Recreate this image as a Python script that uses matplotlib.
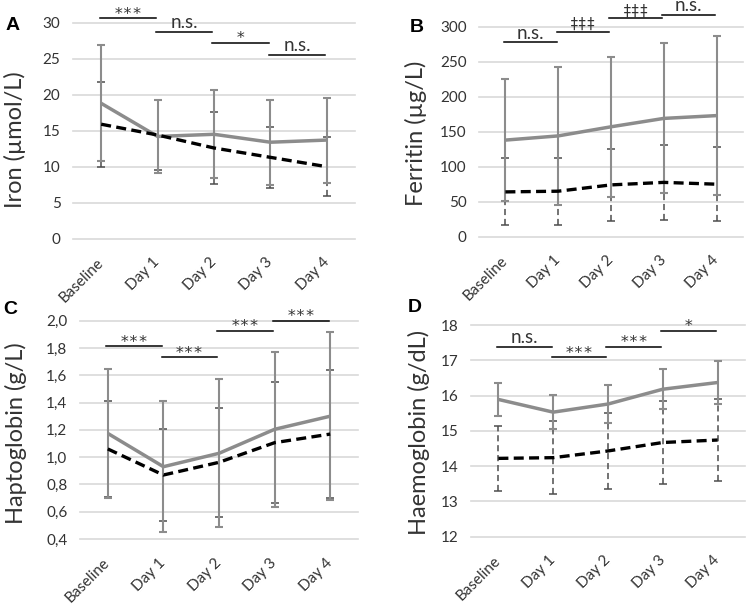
import matplotlib
matplotlib.use("Agg")
import matplotlib.pyplot as plt

plt.rcParams['font.family'] = ['Lato', 'DejaVu Sans']

categories = ["Baseline", "Day 1", "Day 2", "Day 3", "Day 4"]

# Panel A: Iron
iron_gray = [18.8, 14.2, 14.5, 13.4, 13.7]
iron_gray_err = [8.05, 5.1, 6.1, 5.9, 5.9]
iron_black = [15.9, 14.4, 12.6, 11.3, 10.0]
iron_black_err = [5.9, 4.9, 5.0, 4.2, 4.1]
iron_sig = ["***", "n.s.", "*", "n.s."]
iron_sig_y = [30.6, 28.75, 27.2, 25.5]
iron_ticks = [0, 5, 10, 15, 20, 25, 30]

# Panel B: Ferritin
ferr_gray = [138, 144, 157, 169, 173]
ferr_gray_err = [87, 99, 100, 107, 114]
ferr_black = [64, 65, 74, 77.6, 75]
ferr_black_err = [48, 48, 51, 54, 53]
ferr_sig = ["n.s.", "\u2021\u2021\u2021", "\u2021\u2021\u2021", "n.s."]
ferr_sig_y = [277.6, 292.9, 311.9, 316.7]
ferr_ticks = [0, 50, 100, 150, 200, 250, 300]

# Panel C: Haptoglobin
hapt_gray = [1.174, 0.93, 1.028, 1.204, 1.30]
hapt_gray_err = [0.47, 0.48, 0.543, 0.568, 0.617]
hapt_black = [1.06, 0.869, 0.962, 1.106, 1.169]
hapt_black_err = [0.355, 0.34, 0.40, 0.445, 0.47]
hapt_sig = ["***", "***", "***", "***"]
hapt_sig_y = [1.814, 1.731, 1.927, 2.0]
hapt_ticks = [0.4, 0.6, 0.8, 1.0, 1.2, 1.4, 1.6, 1.8, 2.0]
hapt_ticklabels = ["0,4", "0,6", "0,8", "1,0", "1,2", "1,4", "1,6", "1,8", "2,0"]

# Panel D: Haemoglobin
haem_gray = [15.89, 15.53, 15.76, 16.18, 16.37]
haem_gray_err = [0.47, 0.48, 0.53, 0.57, 0.62]
haem_black = [14.22, 14.24, 14.43, 14.67, 14.74]
haem_black_err = [0.93, 1.03, 1.07, 1.17, 1.17]
haem_sig = ["n.s.", "***", "***", "*"]
haem_sig_y = [17.39, 17.08, 17.39, 17.84]
haem_ticks = [12, 13, 14, 15, 16, 17, 18]

W, H = 751, 606
fig = plt.figure(figsize=(W / 100, H / 100), dpi=100)


def px_axes(left, right, top, bottom):
    return fig.add_axes([left / W, 1 - bottom / H, (right - left) / W, (bottom - top) / H])


GRAY = "#8c8c8c"
DARK = "#4d4d4d"
TXT = "#333333"


def panel(ax, gray, gray_err, black, black_err, sig, sig_y, ticks, ticklabels, ylim,
          ylabel, label_x, label_y):
    x = list(range(len(categories)))
    ax.set_xlim(-0.5, len(categories) - 0.5)
    ax.set_ylim(*ylim)
    for t in ticks:
        ax.axhline(t, color="#d9d9d9", lw=1.2, zorder=0, clip_on=False)
    eb = ax.errorbar(x, black, yerr=black_err, fmt="none", ecolor=DARK, elinewidth=1.1,
                     capsize=3, capthick=1.1, zorder=2)
    eb[2][0].set_linestyle((0, (4, 2.5)))
    ax.errorbar(x, gray, yerr=gray_err, fmt="none", ecolor=GRAY, elinewidth=1.5,
                capsize=3, capthick=1.5, zorder=3)
    ax.plot(x, gray, color=GRAY, lw=2.5, zorder=4, solid_capstyle="butt")
    ax.plot(x, black, color="black", lw=2.4, ls=(0, (3, 1.6)), zorder=5)
    for i, (s, yv) in enumerate(zip(sig, sig_y)):
        ax.plot([i - 0.03, i + 0.97], [yv, yv], color="black", lw=1.1, clip_on=False, zorder=6)
        if s[0] in "*\u2021":
            ax.annotate(s, xy=(i + 0.47, yv), xytext=(0, -2.5 if s[0] == "*" else 0),
                        textcoords="offset points", ha="center", va="bottom",
                        fontsize=11.5 if s[0] == "*" else 10.5, annotation_clip=False,
                        color=TXT, family=["DejaVu Sans Mono"])
        else:
            ax.annotate(s, xy=(i + 0.47, yv), xytext=(0, 0.5),
                        textcoords="offset points", ha="center", va="bottom",
                        fontsize=13.5, annotation_clip=False, color=TXT)
    ax.set_yticks(ticks)
    ax.set_yticklabels(ticklabels)
    ax.set_xticks(x)
    ax.set_xticklabels(categories, rotation=45, ha="right", va="center",
                       rotation_mode="anchor")
    ax.tick_params(axis="both", length=0, labelsize=11, colors=TXT)
    ax.tick_params(axis="y", pad=9)
    ax.tick_params(axis="x", pad=15.5)
    for sp in ax.spines.values():
        sp.set_visible(False)
    ax.set_ylabel(ylabel, fontsize=17, color=TXT)
    ax.yaxis.label.set_va("center")
    ax.yaxis.set_label_coords(label_x, label_y)


axA = px_axes(73, 355, 22.7, 238.7)
panel(axA, iron_gray, iron_gray_err, iron_black, iron_black_err, iron_sig, iron_sig_y,
      iron_ticks, [str(t) for t in iron_ticks], (0, 30), "Iron (\u00b5mol/L)", -0.205, 0.46)

axB = px_axes(479, 743, 26.7, 236.7)
panel(axB, ferr_gray, ferr_gray_err, ferr_black, ferr_black_err, ferr_sig, ferr_sig_y,
      ferr_ticks, [str(t) for t in ferr_ticks], (0, 300), "Ferritin (\u00b5g/L)", -0.24, 0.49)

axC = px_axes(80, 358, 320.7, 539)
panel(axC, hapt_gray, hapt_gray_err, hapt_black, hapt_black_err, hapt_sig, hapt_sig_y,
      hapt_ticks, hapt_ticklabels, (0.4, 2.0), "Haptoglobin (g/L)", -0.23, 0.484)

axD = px_axes(471, 745, 325, 536.7)
panel(axD, haem_gray, haem_gray_err, haem_black, haem_black_err, haem_sig, haem_sig_y,
      haem_ticks, [str(t) for t in haem_ticks], (12, 18), "Haemoglobin (g/dL)", -0.19, 0.493)

for lab, (px, py) in zip("ABCD", [(13, 25), (417, 27), (10, 309), (415, 308)]):
    fig.text(px / W, 1 - py / H, lab, fontsize=14, fontweight="bold",
             family=["Liberation Sans", "DejaVu Sans"], ha="center", va="center")

fig.savefig("out.png", dpi=100)
